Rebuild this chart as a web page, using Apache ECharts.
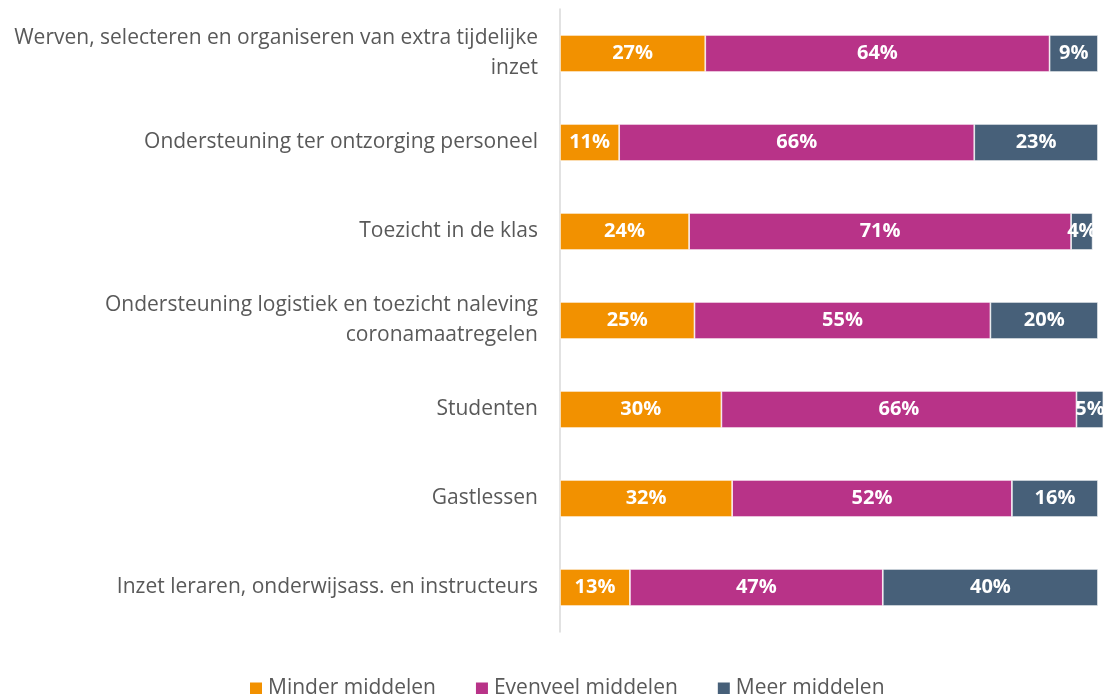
<!DOCTYPE html>
<html><head><meta charset="utf-8">
<script src="https://cdn.jsdelivr.net/npm/echarts@6/dist/echarts.min.js"></script>
<style>html,body{margin:0;padding:0;background:#fff}#c{width:1107px;height:694px}</style>
</head><body><div id="c"></div>
<script>
const categories = [
  "Werven, selecteren en organiseren van extra tijdelijke\ninzet",
  "Ondersteuning ter ontzorging personeel",
  "Toezicht in de klas",
  "Ondersteuning logistiek en toezicht naleving\ncoronamaatregelen",
  "Studenten",
  "Gastlessen",
  "Inzet leraren, onderwijsass. en instructeurs"
];
const seriesNames = ["Minder middelen", "Evenveel middelen", "Meer middelen"];
const minder = [27, 11, 24, 25, 30, 32, 13];
const evenveel = [64, 66, 71, 55, 66, 52, 47];
const meer = [9, 23, 4, 20, 5, 16, 40];
const colors = ["#F29100", "#B83388", "#476079"];
const font = "'Open Sans', 'Noto Sans', sans-serif";

const chart = echarts.init(document.getElementById('c'));
const mk = (name, data, i) => ({
  name, type: 'bar', stack: 'total', data,
  barWidth: 37, clip: false,
  itemStyle: { color: colors[i], borderColor: '#ffffff', borderWidth: 0.7 },
  label: { show: true, position: 'inside', formatter: '{c}%', color: '#fff',
           fontFamily: font, fontWeight: 'bold', fontSize: 20 }
});
chart.setOption({
  animation: false,
  color: colors,
  grid: { left: 560, right: 9, top: 9, bottom: 62, containLabel: false },
  xAxis: { type: 'value', min: 0, max: 100, show: false },
  yAxis: {
    type: 'category', data: categories, inverse: true,
    axisLine: { show: true, lineStyle: { color: '#d9d9d9', width: 1.5 } },
    axisTick: { show: false },
    axisLabel: { color: '#595959', fontFamily: font, fontSize: 21, lineHeight: 30, margin: 22, align: 'right' }
  },
  legend: {
    top: 673, left: 243, itemWidth: 14, itemHeight: 14, itemGap: 38,
    icon: 'rect',
    textStyle: { color: '#595959', fontFamily: font, fontSize: 21 },
    data: seriesNames
  },
  series: [mk(seriesNames[0], minder, 0), mk(seriesNames[1], evenveel, 1), mk(seriesNames[2], meer, 2)]
});
</script></body></html>
